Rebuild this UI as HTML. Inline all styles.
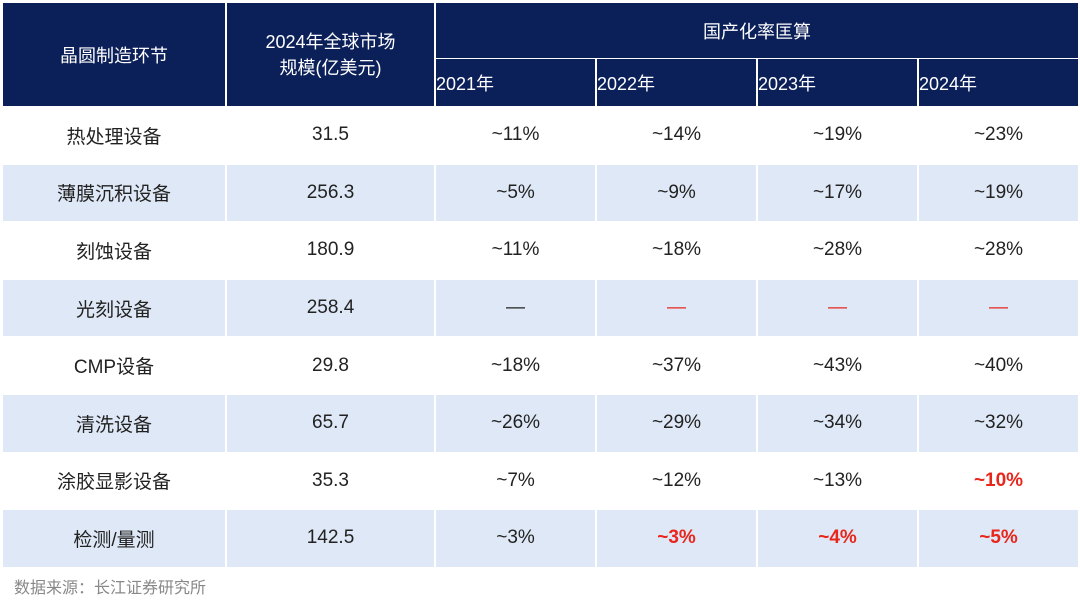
<!DOCTYPE html><html><head><meta charset="utf-8"><style>
body{margin:0;width:1080px;height:606px;background:#fff;font-family:"Liberation Sans","Noto Sans CJK SC",sans-serif;position:relative;overflow:hidden}
.c{position:absolute;display:flex;align-items:center;justify-content:center;font-size:19px;color:#222;box-sizing:border-box}
.h{background:#0b1f59;color:#fff;font-size:18px}
.r{color:#e8261c}.b{font-weight:bold}
.src{position:absolute;left:14px;top:574px;font-size:16px;color:#888}
</style></head><body>
<div class="c h" style="left:3px;top:3px;width:222px;height:103px">晶圆制造环节</div>
<div class="c h" style="left:227px;top:3px;width:207px;height:103px;text-align:center;line-height:26px">2024年全球市场<br>规模(亿美元)</div>
<div class="c h" style="left:436px;top:3px;width:642px;height:55px">国产化率匡算</div>
<div class="c h" style="left:436px;top:59px;width:159px;height:47px;justify-content:flex-start">2021年</div>
<div class="c h" style="left:597px;top:59px;width:159px;height:47px;justify-content:flex-start">2022年</div>
<div class="c h" style="left:758px;top:59px;width:159px;height:47px;justify-content:flex-start">2023年</div>
<div class="c h" style="left:919px;top:59px;width:159px;height:47px;justify-content:flex-start">2024年</div>
<div id="t"></div>
<div class="src">数据来源：长江证券研究所</div>
<script>
var rows=[["热处理设备","31.5","~11%","~14%","~19%","~23%"],["薄膜沉积设备","256.3","~5%","~9%","~17%","~19%"],["刻蚀设备","180.9","~11%","~18%","~28%","~28%"],["光刻设备","258.4","—","r—","r—","r—"],["CMP设备","29.8","~18%","~37%","~43%","~40%"],["清洗设备","65.7","~26%","~29%","~34%","~32%"],["涂胶显影设备","35.3","~7%","~12%","~13%","R~10%"],["检测/量测","142.5","~3%","R~3%","R~4%","R~5%"]];
var xs=[3,227,436,597,758,919],ws=[222,207,159,159,159,159],h="";
rows.forEach(function(r,i){var y=107+i*57.6;var bg=i%2?"#dfe8f6":"#fff";
r.forEach(function(v,j){var cl="";if(v[0]=="r"){cl="r";v=v.slice(1)}else if(v[0]=="R"){cl="r b";v=v.slice(1)}
h+='<div class="c '+cl+'" style="left:'+xs[j]+'px;top:'+y+'px;width:'+ws[j]+'px;height:56.6px;background:'+bg+'">'+v+'</div>'})});
document.getElementById("t").innerHTML=h;
</script>
</body></html>
